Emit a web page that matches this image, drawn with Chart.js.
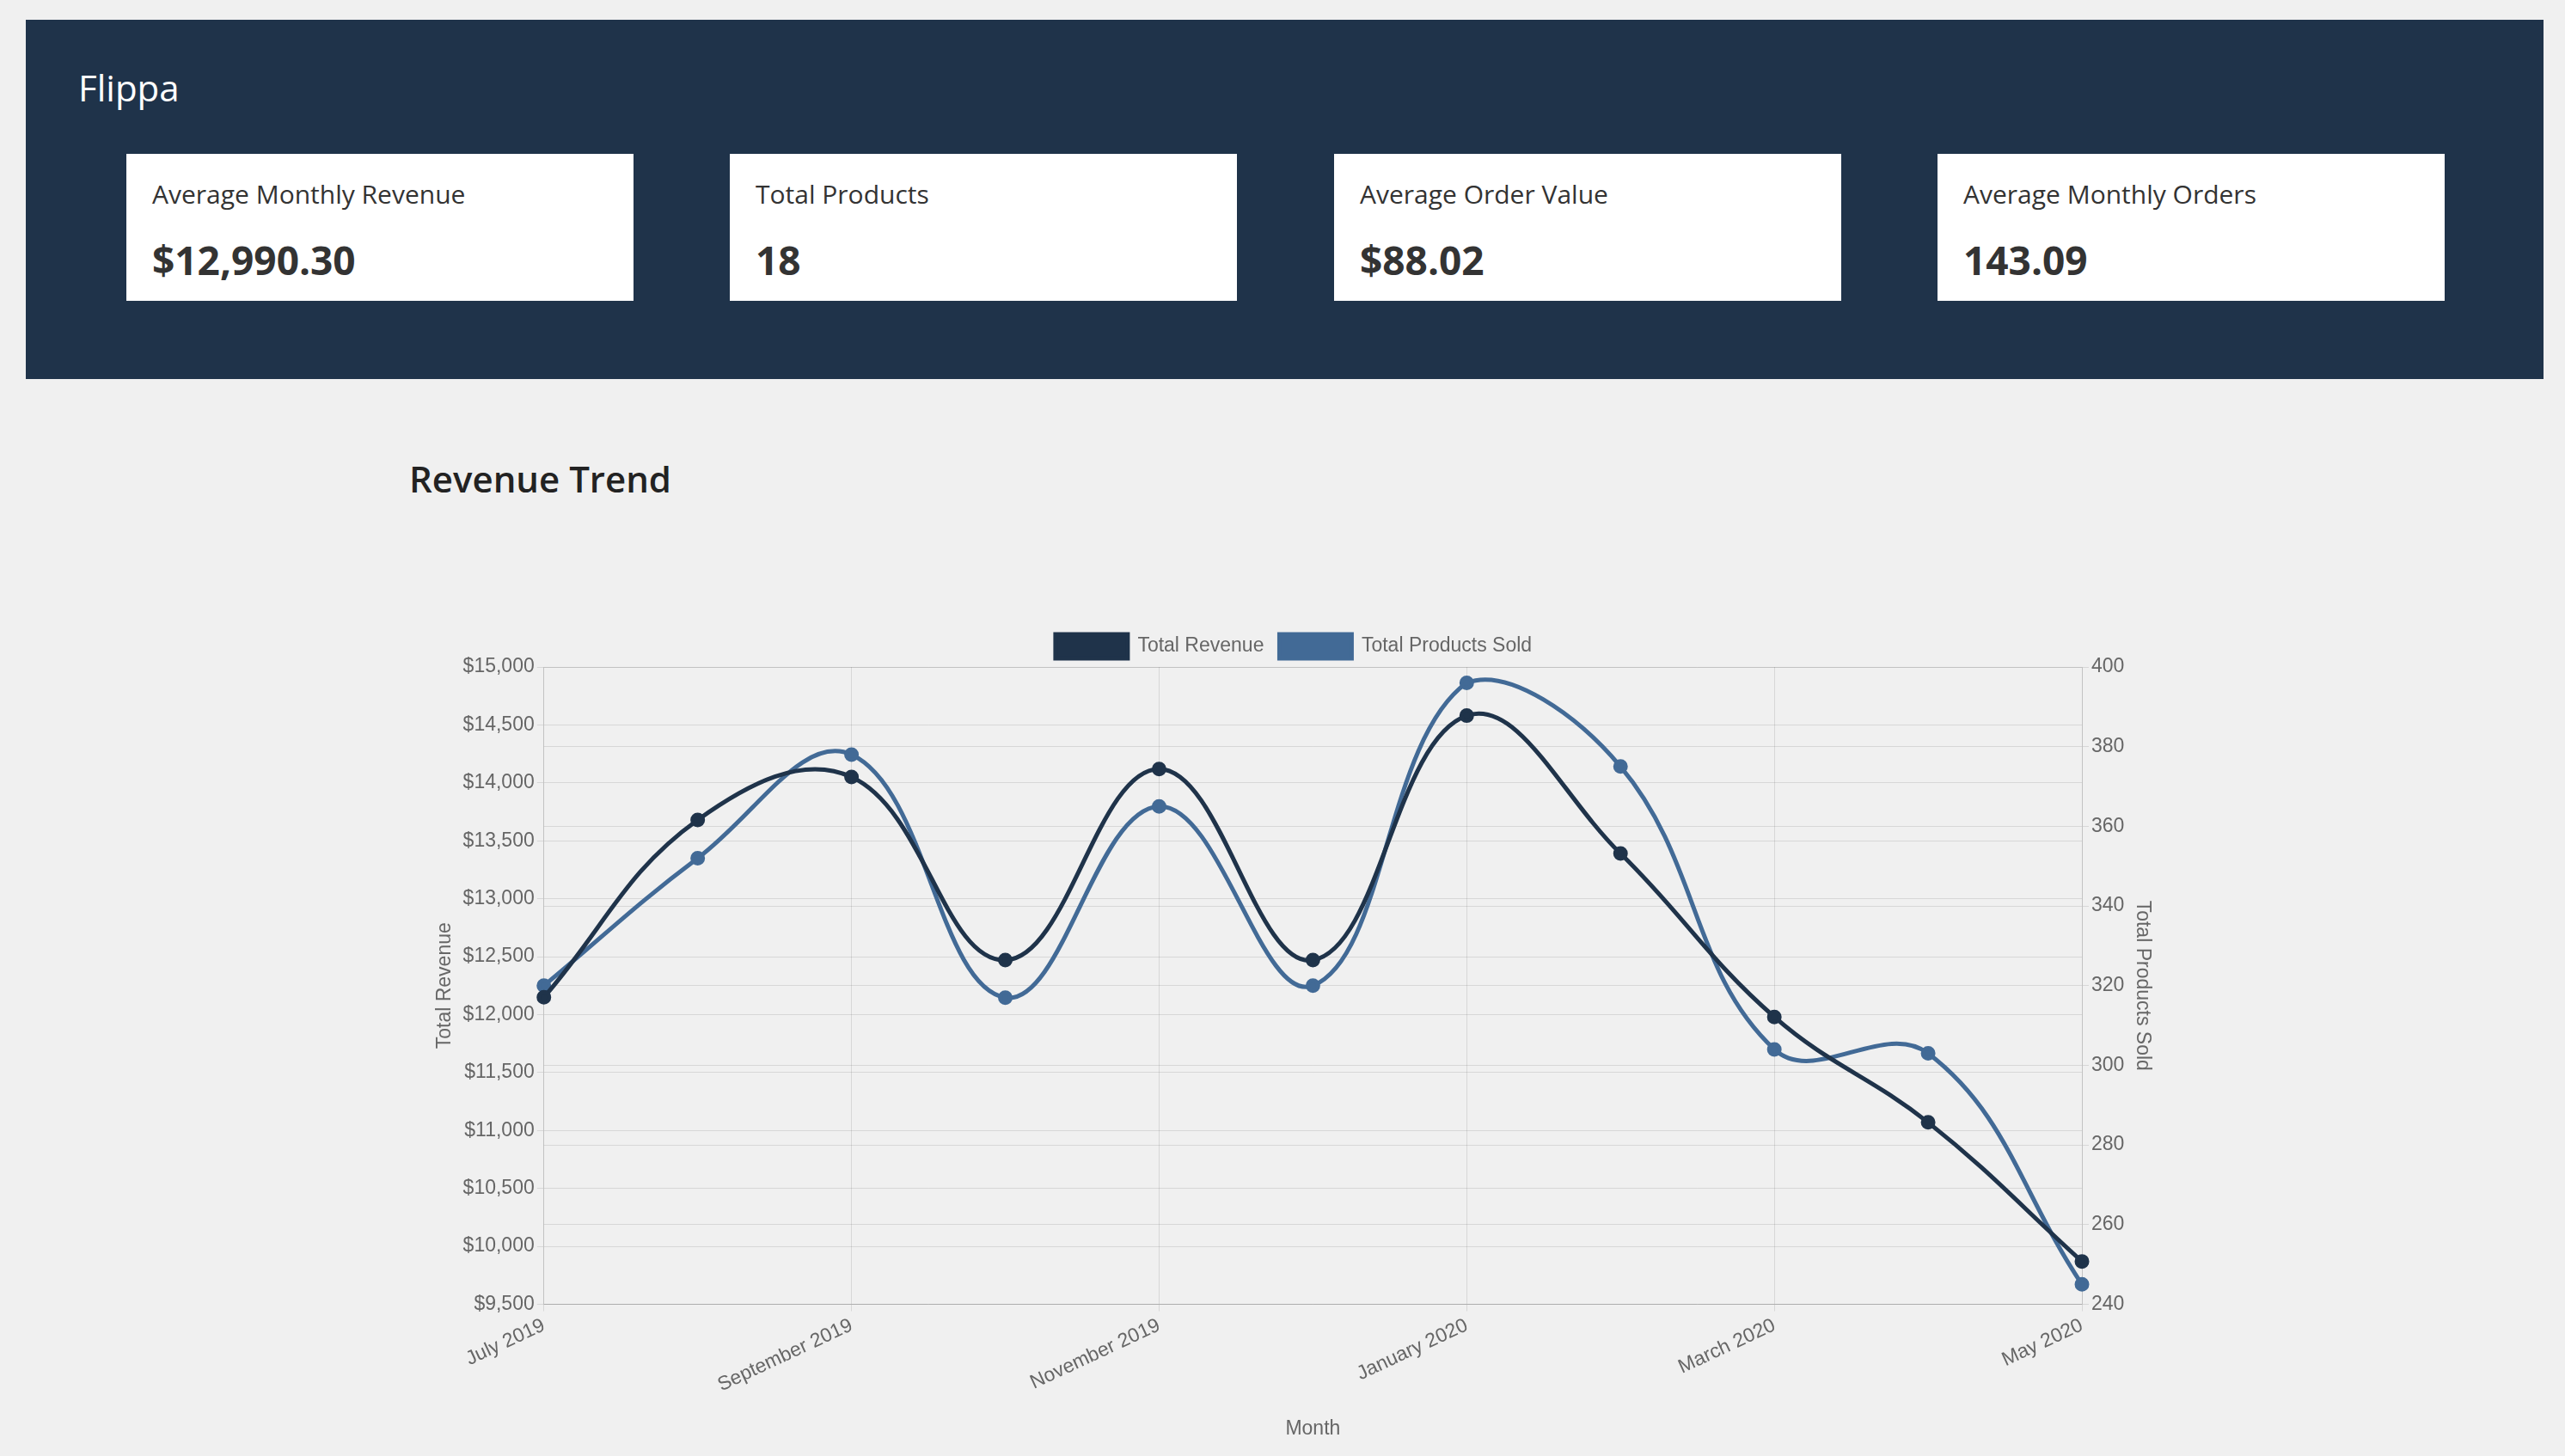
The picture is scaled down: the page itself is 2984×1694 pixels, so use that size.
<!DOCTYPE html>
<html>
<head>
<meta charset="utf-8">
<script src="https://cdn.jsdelivr.net/npm/chart.js@4"></script>
<style>
  body { margin: 0; background: #f0f0f0; font-family: "Open Sans", sans-serif; width: 2984px; height: 1694px; overflow: hidden; position: relative; }
  .topo { position: absolute; left: 30px; top: 23px; width: 2929px; height: 418px; background: #1f334a; }
  .marca { position: absolute; left: 61px; top: 50px; color: #fff; font-size: 42px; }
  .card { position: absolute; top: 156px; width: 590px; height: 171px; background: #fff; color: #333; }
  .card span { position: absolute; left: 30px; top: 26px; font-size: 30px; }
  .card strong { position: absolute; left: 30px; top: 92px; font-size: 46px; font-weight: 700; }
  h2 { position: absolute; left: 476px; top: 528px; margin: 0; font-size: 42px; font-weight: 600; color: #222; }
  #wrap { position: absolute; left: 470px; top: 720px; width: 2060px; height: 960px; }
</style>
</head>
<body>
<div class="topo">
  <div class="marca">Flippa</div>
  <div class="card" style="left:117px"><span>Average Monthly Revenue</span><strong>$12,990.30</strong></div>
  <div class="card" style="left:819px"><span>Total Products</span><strong>18</strong></div>
  <div class="card" style="left:1522px"><span>Average Order Value</span><strong>$88.02</strong></div>
  <div class="card" style="left:2224px"><span>Average Monthly Orders</span><strong>143.09</strong></div>
</div>
<h2>Revenue Trend</h2>
<div id="wrap"><canvas id="grafico"></canvas></div>
<script>
// Dados do gráfico
const meses = ['July 2019', 'August 2019', 'September 2019', 'October 2019', 'November 2019', 'December 2019',
  'January 2020', 'February 2020', 'March 2020', 'April 2020', 'May 2020'];
const receita = [12150, 13680, 14050, 12470, 14120, 12470, 14580, 13390, 11980, 11070, 9870];
const produtos = [320, 352, 378, 317, 365, 320, 396, 375, 304, 303, 245];

const fonte = { family: '"Liberation Sans", Arial, sans-serif', size: 23 };
const cinza = '#666';
const grade = 'rgba(0,0,0,0.1)';

new Chart(document.getElementById('grafico'), {
  type: 'line',
  data: {
    labels: meses,
    datasets: [{
      label: 'Total Revenue',
      data: receita,
      yAxisID: 'y',
      borderColor: '#1f334a',
      backgroundColor: '#1f334a',
      borderWidth: 5,
      pointRadius: 6,
      tension: 0.4,
      fill: false
    }, {
      label: 'Total Products Sold',
      data: produtos,
      yAxisID: 'y1',
      borderColor: '#426a96',
      backgroundColor: '#426a96',
      borderWidth: 5,
      pointRadius: 6,
      tension: 0.4,
      fill: false
    }]
  },
  options: {
    responsive: true,
    maintainAspectRatio: false,
    devicePixelRatio: 1,
    animation: false,
    layout: { padding: { left: 30, right: 20, top: 0, bottom: 0 } },
    plugins: {
      legend: {
        labels: { color: cinza, font: fonte, boxWidth: 84, boxHeight: 28, padding: 18 }
      },
      tooltip: { enabled: false }
    },
    scales: {
      x: {
        ticks: { color: cinza, font: fonte, maxRotation: 25, minRotation: 25, autoSkip: true, maxTicksLimit: 6 },
        grid: { color: grade },
        title: { display: true, text: 'Month', color: cinza, font: fonte, padding: { top: 20 } }
      },
      y: {
        position: 'left',
        min: 9500, max: 15000,
        ticks: { stepSize: 500, color: cinza, font: fonte, callback: v => '$' + v.toLocaleString('en-US') },
        grid: { color: grade },
        title: { display: true, text: 'Total Revenue', color: cinza, font: fonte }
      },
      y1: {
        position: 'right',
        min: 240, max: 400,
        ticks: { stepSize: 20, color: cinza, font: fonte },
        grid: { color: grade },
        title: { display: true, text: 'Total Products Sold', color: cinza, font: fonte }
      }
    }
  }
});
</script>
</body>
</html>
